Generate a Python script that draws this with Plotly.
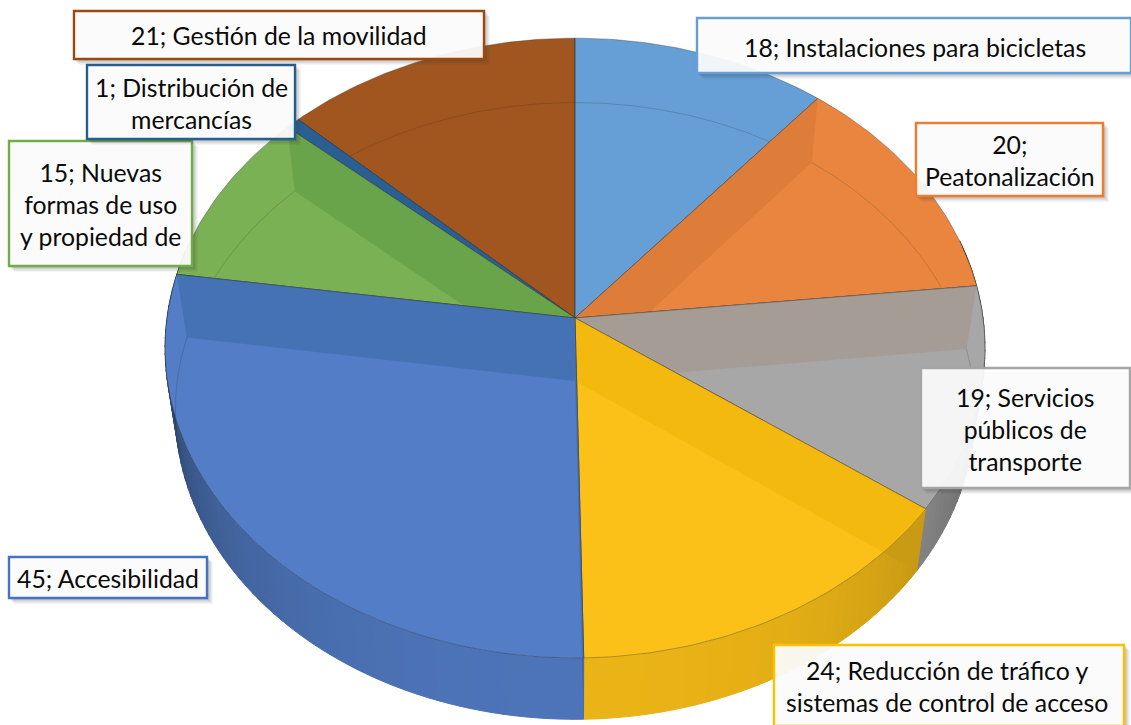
import numpy as np
import plotly.graph_objects as go

# ---- data (clockwise from 12 o'clock) ----
values = [18, 20, 19, 24, 45, 15, 1, 21]
label_text = [
    "18; Instalaciones para bicicletas",
    "20;<br>Peatonalización",
    "19; Servicios<br>públicos de<br>transporte",
    "24; Reducción de tráfico y<br>sistemas de control de acceso",
    "45; Accesibilidad",
    "15; Nuevas<br>formas de uso<br>y propiedad de",
    "1; Distribución de<br>mercancías",
    "21; Gestión de la movilidad",
]
face_colors = ["#659fd6", "#ea853f", "#a7a7a7", "#fcc118", "#537dc6", "#7bb155", "#2a5f94", "#a1561f"]
band_colors = ["#5f97cc", "#dd7d39", "#a59c96", "#f4b90e", "#4572b5", "#69a34a", "#2a5f94", "#a1561f"]
border_colors = ["#659fd6", "#ed7d31", "#a5a5a5", "#ffc000", "#4472c4", "#70ad47", "#255e91", "#9e480e"]
# painter's order: far slices first
draw_order = [7, 6, 5, 0, 1, 2, 3, 4]

# label boxes in screen pixels: x0, x1, y0, y1, text-x, text-y
label_boxes = [
    (697, 1131, 18, 73, 915, 47),
    (916, 1103, 123, 196, 1010, 160),
    (921, 1130, 368, 488, 1025, 429),
    (774, 1124, 645, 726, 947, 686),
    (9, 207, 557, 598, 108, 578),
    (9, 192, 141, 266, 100, 204),
    (87, 295, 65, 139, 191, 103),
    (74, 484, 11, 59, 279, 35),
]

W, H = 1131, 725
# tilted-disc projection
CX, CY_TOP, CY_BOT = 575.0, 318.0, 381.0
A, B, K = 408.0, 307.0, 0.097
BOT_SX, BOT_SY = 0.975, 0.995


def top(theta):
    u, v = np.sin(theta), np.cos(theta)
    w = 1 + K * v
    return np.c_[CX + A * u / w, CY_TOP - B * v / w]


def bot(theta):
    u, v = np.sin(theta), np.cos(theta)
    w = 1 + K * v
    return np.c_[CX + BOT_SX * A * u / w, CY_BOT - BOT_SY * B * v / w]


def area(p):
    x, y = p[:, 0], p[:, 1]
    return 0.5 * np.sum(x * np.roll(y, -1) - y * np.roll(x, -1))


def clip(subject, convex):
    """Sutherland-Hodgman clip of polygon subject against a convex polygon."""
    c = convex if area(convex) > 0 else convex[::-1]
    out = [tuple(p) for p in subject]
    for i in range(len(c)):
        a, b = c[i], c[(i + 1) % len(c)]
        side = lambda p: (b[0] - a[0]) * (p[1] - a[1]) - (b[1] - a[1]) * (p[0] - a[0])
        inp, out = out, []
        for j in range(len(inp)):
            p, q = inp[j], inp[(j + 1) % len(inp)]
            sp, sq = side(p), side(q)
            if sp >= 0:
                out.append(p)
            if sp * sq < 0:
                t = sp / (sp - sq)
                out.append((p[0] + t * (q[0] - p[0]), p[1] + t * (q[1] - p[1])))
        if not out:
            return np.zeros((0, 2))
    return np.array(out)


def inside(pt, convex):
    c = convex if area(convex) > 0 else convex[::-1]
    for i in range(len(c)):
        a, b = c[i], c[(i + 1) % len(c)]
        if (b[0] - a[0]) * (pt[1] - a[1]) - (b[1] - a[1]) * (pt[0] - a[0]) < 0:
            return False
    return True


def rgb(h):
    return np.array([int(h[i:i + 2], 16) for i in (1, 3, 5)], float)


def shade(h, f):
    c = np.clip(rgb(h) * f, 0, 255).astype(int)
    return f"rgb({c[0]},{c[1]},{c[2]})"


fig = go.Figure()


def poly(p, fill, line="rgba(0,0,0,0)", lw=0.0):
    p = np.asarray(p)
    if len(p) < 3:
        return
    fig.add_trace(go.Scatter(x=np.r_[p[:, 0], p[0, 0]], y=np.r_[p[:, 1], p[0, 1]], mode="lines",
                             fill="toself", fillcolor=fill, line=dict(color=line, width=lw),
                             hoverinfo="skip", showlegend=False))


total = sum(values)
edges = np.r_[0, np.cumsum(values)] / total * 2 * np.pi

for i in draw_order:
    t0, t1 = edges[i], edges[i + 1]
    n = max(3, int(np.degrees(t1 - t0)))
    th = np.linspace(t0, t1, n + 1)
    uc = np.array([[CX, CY_TOP]])
    lc = np.array([[CX, CY_BOT]])
    u_sector = np.r_[uc, top(th)]
    face, band = face_colors[i], band_colors[i]

    # outer wall, in shaded strips
    steps = int(np.degrees(t1 - t0) / 1.5) + 1
    ts = np.linspace(t0, t1, steps + 1)
    for a0, a1 in zip(ts[:-1], ts[1:]):
        mid = (a0 + a1) / 2
        if np.cos(mid) > 0.25:
            continue
        d = abs(np.degrees(mid) - 180)
        f = 0.93 - 0.48 * (d / 90) ** 2.4
        col = shade(face, f)
        poly(np.r_[top(np.array([a0, a1])), bot(np.array([a1, a0]))], col, col, 1)

    # side faces: band between the upper and the lower radial
    bands = []
    for t in (t0, t1):
        a = np.array([t])
        quad = np.r_[uc, top(a), bot(a), lc]
        clipped = clip(quad, u_sector)
        if len(clipped) >= 3 and abs(area(clipped)) > 30:
            bands.append((quad, clipped))
    for quad, _ in bands:
        poly(quad, shade(face, 0.8))

    # the surface
    poly(u_sector, face, "rgba(50,50,50,0.35)", 1)

    # lower rim seen through the surface
    fine = np.linspace(t0, t1, 4 * n + 1)
    pts = bot(fine)
    keep = [inside(p, u_sector) for p in pts]
    xs, ys = [], []
    for p, k in zip(pts, keep):
        xs.append(p[0] if k else None)
        ys.append(p[1] if k else None)
    fig.add_trace(go.Scatter(x=xs, y=ys, mode="lines", line=dict(color="rgba(40,40,40,0.2)", width=1),
                             hoverinfo="skip", showlegend=False))

    for _, clipped in bands:
        poly(clipped, band)
    # re-stroke the radials over the band
    fig.add_trace(go.Scatter(x=u_sector[[1, 0, -1], 0], y=u_sector[[1, 0, -1], 1], mode="lines",
                             line=dict(color="rgba(50,50,50,0.35)", width=1),
                             hoverinfo="skip", showlegend=False))

# ---- label boxes and text ----
shapes = []
annotations = []
for txt, box, col in zip(label_text, label_boxes, border_colors):
    x0, x1, y0, y1, tx, ty = box
    for off, alpha in ((6, 0.05), (5, 0.06), (4, 0.07), (3, 0.08), (2, 0.08)):
        shapes.append(dict(type="rect", xref="x", yref="y", x0=x0 + off - 1, x1=x1 + off, y0=y0 + off - 1,
                           y1=y1 + off, line=dict(width=0),
                           fillcolor=f"rgba(60,60,60,{alpha})", layer="above"))
    shapes.append(dict(type="rect", xref="x", yref="y", x0=x0, x1=x1, y0=y0, y1=y1,
                       line=dict(color=col, width=2.4),
                       fillcolor="rgba(255,255,255,0.92)", layer="above"))
    annotations.append(dict(x=tx, y=ty, xref="x", yref="y", text=txt, showarrow=False,
                            xanchor="center", yanchor="middle", align="center",
                            font=dict(family="Lato", size=24.8, color="#0a0a0a")))

fig.update_layout(
    width=W, height=H, margin=dict(l=0, r=0, t=0, b=0),
    paper_bgcolor="white", plot_bgcolor="white", showlegend=False,
    xaxis=dict(range=[0, W], visible=False, fixedrange=True),
    yaxis=dict(range=[H, 0], visible=False, fixedrange=True),
    shapes=shapes, annotations=annotations,
)
fig.write_html("out.html", config={"displayModeBar": False},
               post_script="document.body.style.margin='0';document.body.style.overflow='hidden';")
